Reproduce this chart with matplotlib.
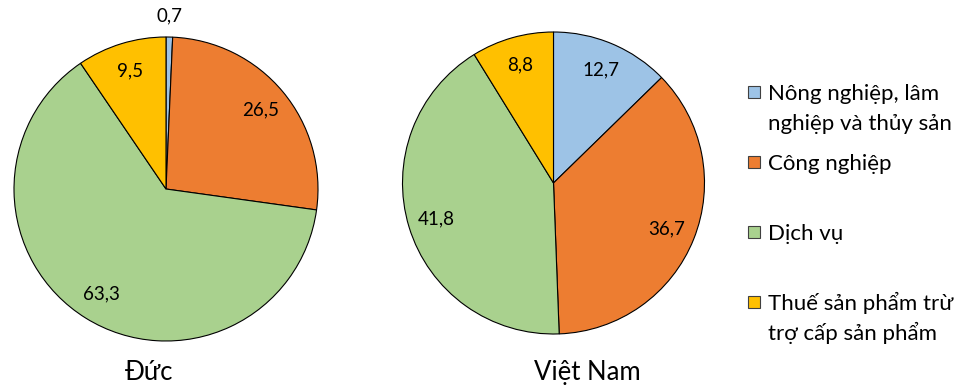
import numpy as np
import matplotlib.pyplot as plt
from matplotlib.patches import Rectangle

# fonts: Lato first, DejaVu as fallback for any missing glyph
plt.rcParams['font.family'] = ['Lato', 'DejaVu Sans']

# data (%)
sectors = ['Nông nghiệp, lâm\nnghiệp và thủy sản', 'Công nghiệp', 'Dịch vụ',
           'Thuế sản phẩm trừ\ntrợ cấp sản phẩm']
colors = ['#9DC3E6', '#ED7D31', '#A9D18E', '#FFC000']
countries = ['Đức', 'Việt Nam']
duc = [0.7, 26.5, 63.3, 9.5]
vietnam = [12.7, 36.7, 41.8, 8.8]

W, H = 963, 388
fig = plt.figure(figsize=(W / 100, H / 100), dpi=100)


def px_axes(cx, cy, r):
    # square axes placed by pixel centre / radius
    return fig.add_axes([(cx - r) / W, (H - cy - r) / H, 2 * r / W, 2 * r / H])


def draw_pie(ax, values, title, title_x):
    wedges, _, autotexts = ax.pie(
        values, colors=colors, startangle=90, counterclock=False,
        autopct=lambda p: f'{p:.1f}'.replace('.', ','), pctdistance=0.81,
        wedgeprops=dict(edgecolor='black', linewidth=0.8),
        textprops=dict(fontsize=13.5, color='black'))
    # very small slices get the label outside
    for w, t, v in zip(wedges, autotexts, values):
        if v < 3:
            ang = np.deg2rad((w.theta1 + w.theta2) / 2)
            t.set_position((1.14 * np.cos(ang), 1.14 * np.sin(ang)))
    ax.set_xlim(-1, 1)
    ax.set_ylim(-1, 1)
    fig.text(title_x / W, 1 - 380 / H, title, fontsize=18.5,
             ha='center', va='baseline')


draw_pie(px_axes(166, 189, 152), duc, countries[0], 149)
draw_pie(px_axes(553.5, 183, 151), vietnam, countries[1], 587)

# legend drawn by hand so the boxes line up with the first text line
legend_y = [92, 162, 232, 302]
for lab, col, y in zip(sectors, colors, legend_y):
    fig.add_artist(Rectangle((748 / W, 1 - (y + 6) / H), 12 / W, 12 / H,
                             facecolor=col, edgecolor='#404040', linewidth=0.8,
                             transform=fig.transFigure))
    for i, line in enumerate(lab.split('\n')):
        fig.text(768 / W, 1 - (y + 8 + 30 * i) / H, line, fontsize=16,
                 ha='left', va='baseline')

fig.savefig('out.png', dpi=100, facecolor='white')
